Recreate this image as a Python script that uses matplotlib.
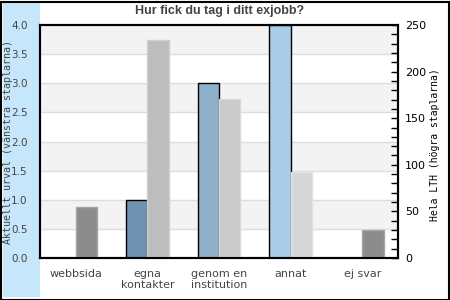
import numpy as np
import matplotlib.pyplot as plt
from matplotlib.patches import Rectangle

# Data
categories = ['webbsida', 'egna\nkontakter', 'genom en\ninstitution', 'annat', 'ej svar']
urval = [0, 1.0, 3.0, 4.0, 0]          # left axis
lth = [55, 234, 171, 92, 30]           # right axis

left_colors = ['#7092b0', '#7092b0', '#8fb0cb', '#aacde8', '#aacde8']
right_colors = ['#8c8c8c', '#bdbdbd', '#cbcbcb', '#d6d6d6', '#8c8c8c']
right_edges = ['#a6a6a6', '#cfcfcf', '#d9d9d9', '#e2e2e2', '#a6a6a6']

fig = plt.figure(figsize=(4.5, 3), dpi=100)

# light blue strip on the left and a black frame
fig.patches.append(Rectangle((3/450, 3/300), 37/450, 294/300, transform=fig.transFigure,
                             facecolor='#c6e6fb', edgecolor='none', zorder=-2))
fig.patches.append(Rectangle((0.5/450, 0.5/300), 448/450, 298/300, transform=fig.transFigure,
                             facecolor='none', edgecolor='black', linewidth=1.5, zorder=-1))

ax = fig.add_axes([40/450, 42/300, 358/450, 233/300])
ax2 = ax.twinx()

x = np.arange(len(categories))
w = 0.3

# striped background
for i in range(8):
    lo = i * 0.5
    if i % 2 == 1:
        ax.axhspan(lo, lo + 0.5, color='#f3f3f3', zorder=0, lw=0)
    ax.axhline(lo, color='#dddddd', lw=1, zorder=0.5)

ax.bar(x - w/2, urval, w, color=left_colors, edgecolor='black', linewidth=1, zorder=2)
ax2.bar(x + w/2, lth, w, color=right_colors, edgecolor=right_edges, linewidth=1, zorder=2)

ax.set_xlim(-0.5, 4.5)
ax.set_ylim(0, 4)
ax2.set_ylim(0, 250)

ax.set_yticks(np.arange(0, 4.01, 0.5))
ax.tick_params(axis='y', length=0, labelsize=7.5, labelcolor='#444444', pad=9)
ax.set_xticks(x)
ax.set_xticklabels(categories, fontsize=8, color='#444444', linespacing=1.1)
ax.tick_params(axis='x', length=0, pad=8)

ax2.set_yticks(np.arange(0, 251, 50))
ax2.set_yticks(np.arange(0, 251, 10), minor=True)
ax2.tick_params(axis='y', which='both', direction='in', length=5, width=1,
                labelsize=8, labelcolor='black', pad=5)

for a in (ax, ax2):
    for s in a.spines.values():
        s.set_linewidth(1.5)
        s.set_color('black')

fig.text(8/450, 1 - 142/300, 'Aktuellt urval (vänstra staplarna)', family='DejaVu Sans Mono',
         fontsize=7.2, color='#444444', rotation=90, ha='center', va='center')
fig.text(435/450, 1 - 145/300, 'Hela LTH (högra staplarna)', family='DejaVu Sans Mono',
         fontsize=7, color='black', rotation=90, ha='center', va='center')

fig.text(220/450, 1 - 11/300, 'Hur fick du tag i ditt exjobb?', ha='center', va='center',
         fontsize=9, fontweight='bold', color='#444444', family='Liberation Sans')

fig.savefig('out.png', dpi=100)
